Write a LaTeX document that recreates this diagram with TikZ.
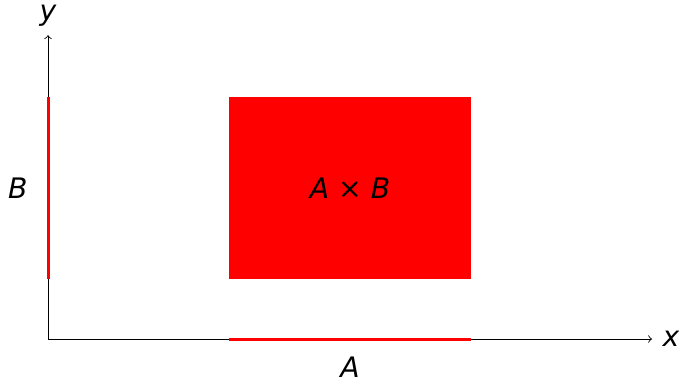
\documentclass[tikz,border=0pt]{standalone}
\usepackage{fontspec}
\setmainfont{DejaVu Sans}
\usepackage{tikz}
\usetikzlibrary{positioning}
\tikzset{
  axis/.style={->,thin},
  setline/.style={red,line width=1.4pt},
  setbox/.style={fill=red,draw=none},
  lbl/.style={font=\fontsize{13.3}{15}\selectfont\itshape}
}
\begin{document}
\begin{tikzpicture}
\useasboundingbox (-0.795,-0.712) rectangle (10.447,5.613);
% axes
\coordinate (o) at (0,0);
\coordinate (xend) at (10,0);
\coordinate (yend) at (0,5.03);
\draw[axis] (o) -- (xend);
\draw[axis] (o) -- (yend);
\node[lbl,right=0.05 of xend] (xl) {x};
\node[lbl,above=0.02 of yend] (yl) {y};
% sets
\coordinate (a0) at (3,0);
\coordinate (a1) at (7,0);
\coordinate (b0) at (0,1);
\coordinate (b1) at (0,4);
\draw[setline] (a0) -- (a1);
\draw[setline] (b0) -- (b1);
\node[lbl] (al) at (5,-0.47) {A};
\node[lbl] (bl) at (-0.5,2.5) {B};
% product
\fill[setbox] (3,1) rectangle (7,4);
\node[lbl] (ab) at (5,2.5) {A {\upshape×} B};
\end{tikzpicture}
\end{document}
